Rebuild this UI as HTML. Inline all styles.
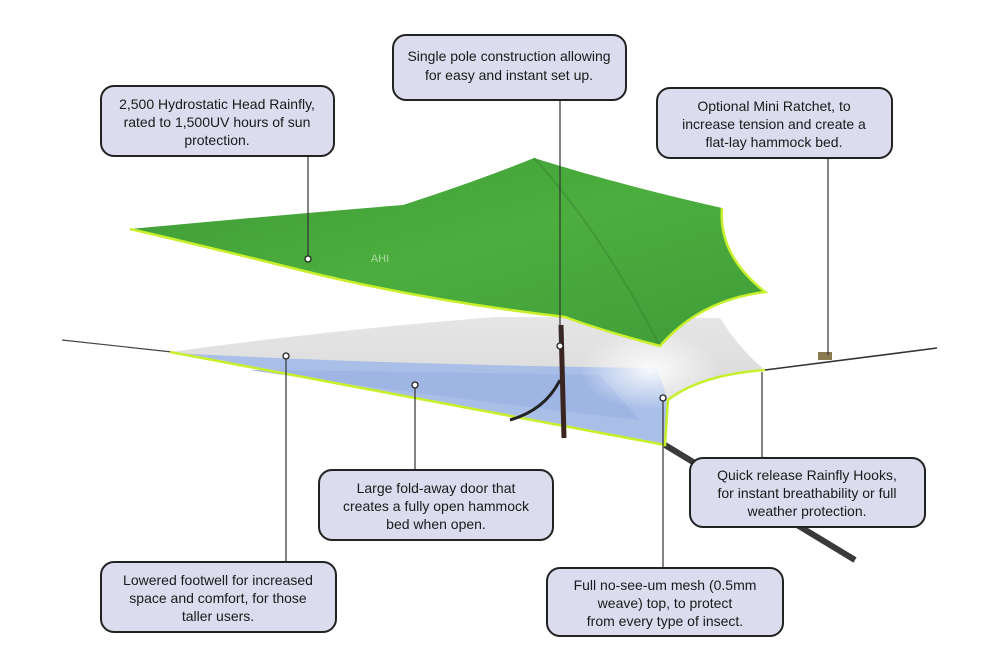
<!DOCTYPE html>
<html><head><meta charset="utf-8"><style>
html,body{margin:0;padding:0;background:#fff;}
svg{display:block}
text{font-family:"Liberation Sans",sans-serif;font-size:14px;fill:#1a1a1a;text-anchor:middle}
.b{fill:#dcdcef;stroke:#222;stroke-width:2}
.l{stroke:#333;stroke-width:1.2;fill:none}
.d{fill:#fff;stroke:#222;stroke-width:1.3}
</style></head><body>
<svg width="1000" height="667" viewBox="0 0 1000 667" xmlns="http://www.w3.org/2000/svg">
<defs>
<linearGradient id="g" x1="0" y1="0" x2="1" y2="1"><stop offset="0" stop-color="#3c9a35"/><stop offset="0.5" stop-color="#4cae3e"/><stop offset="1" stop-color="#3f9c38"/></linearGradient>
<linearGradient id="m" x1="0" y1="0" x2="0" y2="1"><stop offset="0" stop-color="#e6e6e6"/><stop offset="1" stop-color="#d2d2d2"/></linearGradient>
<radialGradient id="w" cx="0.5" cy="0.5" r="0.5"><stop offset="0" stop-color="#ffffff" stop-opacity="0.9"/><stop offset="1" stop-color="#ffffff" stop-opacity="0"/></radialGradient>
</defs>
<!-- guy lines -->
<line x1="62" y1="340" x2="172" y2="352" stroke="#444" stroke-width="1.2"/>
<line x1="765" y1="370" x2="937" y2="348" stroke="#333" stroke-width="1.6"/>
<rect x="818" y="352" width="14" height="8" fill="#8a7a50"/>
<line x1="665" y1="445" x2="855" y2="560" stroke="#3a3a3a" stroke-width="6"/>
<!-- mesh body -->
<path d="M170,352 Q330,330 495,317 L720,318 Q740,350 765,370 Q700,375 668,400 L665,445 Q420,400 170,352 Z" fill="url(#m)"/>
<path d="M172,353 Q400,365 657,368 L668,400 L665,445 Q420,400 172,353 Z" fill="#a9bfe8"/>
<path d="M250,370 Q450,372 600,375 L640,420 Q420,395 250,370Z" fill="#9fb6e4"/>
<ellipse cx="650" cy="370" rx="70" ry="40" fill="url(#w)"/>
<path d="M170,352 Q420,400 665,445 L668,400 Q700,375 765,370" fill="none" stroke="#c8f02a" stroke-width="2.5"/>
<!-- pole -->
<line x1="561" y1="325" x2="564" y2="438" stroke="#3a2520" stroke-width="5"/>
<path d="M560,380 Q545,410 510,420" stroke="#222" stroke-width="3" fill="none"/>
<!-- fly -->
<path d="M130,229 Q280,215 403,205 Q480,180 534,158 Q620,185 722,208 Q718,255 765,292 Q700,300 660,346 Q600,330 565,317 Q420,300 300,270 Q200,245 130,229 Z" fill="url(#g)"/>
<path d="M534,158 Q600,230 660,346" stroke="#3a8a33" stroke-width="2" fill="none" opacity="0.6"/>
<path d="M130,229 Q200,245 300,270 Q420,300 565,317 Q600,330 660,346 Q700,300 765,292 Q718,255 722,208" fill="none" stroke="#c8f02a" stroke-width="2.5"/>
<text x="380" y="262" style="font-size:11px;fill:#a8d8a0">AHI</text>
<!-- leaders -->
<line class="l" x1="308" y1="156" x2="308" y2="258"/>
<line class="l" x1="560" y1="100" x2="560" y2="345"/>
<line class="l" x1="828" y1="158" x2="828" y2="355"/>
<line class="l" x1="415" y1="470" x2="415" y2="385"/>
<line class="l" x1="762" y1="458" x2="762" y2="372"/>
<line class="l" x1="286" y1="562" x2="286" y2="357"/>
<line class="l" x1="663" y1="568" x2="663" y2="398"/>
<circle class="d" cx="308" cy="259" r="3"/>
<circle class="d" cx="560" cy="346" r="3"/>
<circle class="d" cx="415" cy="385" r="3"/>
<circle class="d" cx="286" cy="356" r="3"/>
<circle class="d" cx="663" cy="398" r="3"/>
<!-- boxes -->
<rect class="b" x="101" y="86" width="233" height="70" rx="13"/>
<text x="217" y="109">2,500 Hydrostatic Head Rainfly,</text>
<text x="217" y="127">rated to 1,500UV hours of sun</text>
<text x="217" y="145">protection.</text>
<rect class="b" x="393" y="35" width="233" height="65" rx="13"/>
<text x="509" y="61">Single pole construction allowing</text>
<text x="509" y="80">for easy and instant set up.</text>
<rect class="b" x="657" y="88" width="235" height="70" rx="13"/>
<text x="774" y="111">Optional Mini Ratchet, to</text>
<text x="774" y="129">increase tension and create a</text>
<text x="774" y="147">flat-lay hammock bed.</text>
<rect class="b" x="319" y="470" width="234" height="70" rx="13"/>
<text x="436" y="493">Large  fold-away door that</text>
<text x="436" y="511">creates a fully open hammock</text>
<text x="436" y="529">bed when open.</text>
<rect class="b" x="690" y="458" width="235" height="69" rx="13"/>
<text x="807" y="480">Quick release Rainfly Hooks,</text>
<text x="807" y="498">for instant breathability or full</text>
<text x="807" y="516">weather protection.</text>
<rect class="b" x="101" y="562" width="235" height="70" rx="13"/>
<text x="218" y="585">Lowered footwell for increased</text>
<text x="218" y="603">space and comfort, for those</text>
<text x="218" y="621">taller users.</text>
<rect class="b" x="547" y="568" width="236" height="68" rx="13"/>
<text x="665" y="590">Full no-see-um mesh (0.5mm</text>
<text x="665" y="608">weave) top, to protect</text>
<text x="665" y="626">from every type of insect.</text>
</svg>
</body></html>
